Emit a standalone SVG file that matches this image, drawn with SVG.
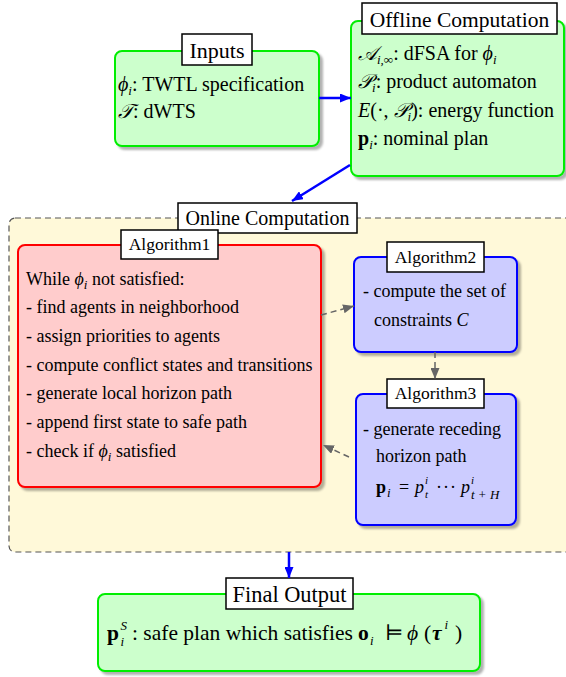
<svg xmlns="http://www.w3.org/2000/svg" width="566" height="677" viewBox="0 0 566 677">
<style>
text{font-family:"Liberation Serif","DejaVu Serif",serif;fill:#000}
.t{text-anchor:middle}
.ta{font-size:17.5px;text-anchor:middle}
.b{font-size:20px}
.s{font-size:18px}
.f{font-size:21.5px}
.m{font-style:italic}
.sub{font-size:13px}
.sm{font-size:11px}
.green{fill:#ccffcc;stroke:#00ee00;stroke-width:2}
.red{fill:#ffcccc;stroke:#ff0000;stroke-width:2}
.blue{fill:#ccccff;stroke:#0000ff;stroke-width:2}
.title{fill:#fff;stroke:#000;stroke-width:1.5}
.ba{stroke:#0000ff;stroke-width:2.5;fill:none}
.da{stroke:#666;stroke-width:1.5;stroke-dasharray:6,4;fill:none}
</style>
<defs>
<filter id="sh" x="-10%" y="-10%" width="130%" height="130%">
<feDropShadow dx="3" dy="3" stdDeviation="1.2" flood-color="#000" flood-opacity="0.3"/>
</filter>
<marker id="ab" markerUnits="userSpaceOnUse" markerWidth="11" markerHeight="9" refX="11" refY="4.5" orient="auto"><path d="M0,0 L11,4.5 L0,9 z" fill="#0000ff"/></marker>
<marker id="ag" markerUnits="userSpaceOnUse" markerWidth="11" markerHeight="9" refX="11" refY="4.5" orient="auto"><path d="M0,0 L11,4.5 L0,9 z" fill="#666"/></marker>
</defs>

<g id="online">
<rect x="9" y="218" width="600" height="334" rx="6" fill="#fff9d9" stroke="#555" stroke-width="1.2" stroke-dasharray="6,4"/>
<rect class="title" x="178" y="203" width="179" height="30"/>
<text class="t" x="267.5" y="225" font-size="20">Online Computation</text>
</g>

<g id="inputs">
<rect class="green" x="115" y="51" width="204" height="95" rx="7" filter="url(#sh)"/>
<rect class="title" x="182" y="34" width="70" height="31"/>
<text class="t" x="217" y="58" font-size="22">Inputs</text>
<text class="b" x="118" y="91" font-size="20.8"><tspan class="m">ϕ</tspan><tspan class="sub m" dy="4">i</tspan><tspan dy="-4">: TWTL specification</tspan></text>
<text class="b" x="118" y="118" font-size="20.8"><tspan class="m">𝒯</tspan>: dWTS</text>
</g>

<g id="offline">
<rect class="green" x="351" y="21" width="213" height="155" rx="7" filter="url(#sh)"/>
<rect class="title" x="362" y="3" width="195" height="31"/>
<text class="t" x="459.5" y="27" font-size="21.5">Offline Computation</text>
<text class="b" x="358" y="60"><tspan class="m">𝒜</tspan><tspan class="sub m" dy="4">i,∞</tspan><tspan dy="-4">: dFSA for </tspan><tspan class="m">ϕ</tspan><tspan class="sub m" dy="4">i</tspan></text>
<text class="b" x="358" y="88"><tspan class="m">𝒫</tspan><tspan class="sub m" dy="4">i</tspan><tspan dy="-4">: product automaton</tspan></text>
<text class="b" x="358" y="117"><tspan class="m">E</tspan>(·, <tspan class="m">𝒫</tspan><tspan class="sub m" dy="4">i</tspan><tspan dy="-4">): energy function</tspan></text>
<text class="b" x="358" y="145"><tspan font-weight="bold">p</tspan><tspan class="sub m" dy="4">i</tspan><tspan dy="-4">: nominal plan</tspan></text>
</g>

<g id="algorithm1">
<rect class="red" x="18" y="245" width="303" height="242" rx="7" filter="url(#sh)"/>
<rect class="title" x="121" y="230" width="97" height="29"/>
<text class="ta" x="169.5" y="250">Algorithm1</text>
<text class="s" x="26" y="285">While <tspan class="m">ϕ</tspan><tspan class="sub m" dy="4">i</tspan><tspan dy="-4"> not satisfied:</tspan></text>
<text class="s" x="26" y="313">- find agents in neighborhood</text>
<text class="s" x="26" y="342">- assign priorities to agents</text>
<text class="s" x="26" y="371">- compute conflict states and transitions</text>
<text class="s" x="26" y="399">- generate local horizon path</text>
<text class="s" x="26" y="428">- append first state to safe path</text>
<text class="s" x="26" y="457">- check if <tspan class="m">ϕ</tspan><tspan class="sub m" dy="4">i</tspan><tspan dy="-4"> satisfied</tspan></text>
</g>

<g id="algorithm2">
<rect class="blue" x="354" y="257" width="163" height="95" rx="7" filter="url(#sh)"/>
<rect class="title" x="387" y="242" width="97" height="30"/>
<text class="ta" x="435.5" y="263">Algorithm2</text>
<text class="s" x="363" y="297">- compute the set of</text>
<text class="s" x="374" y="326">constraints <tspan class="m">C</tspan></text>
</g>

<g id="algorithm3">
<rect class="blue" x="356" y="394" width="160" height="131" rx="7" filter="url(#sh)"/>
<rect class="title" x="387" y="379" width="97" height="29"/>
<text class="ta" x="435.5" y="399">Algorithm3</text>
<text class="s" x="363" y="435">- generate receding</text>
<text class="s" x="376" y="462">horizon path</text>
<text class="s"><tspan font-weight="bold" x="376" y="493">p</tspan><tspan class="sub m" x="387" y="497">i</tspan><tspan x="399" y="493">=</tspan><tspan class="m" x="415" y="493">p</tspan><tspan class="sm m" x="425" y="484">i</tspan><tspan class="sm m" x="425" y="498">t</tspan><tspan x="436" y="493">·</tspan><tspan x="443" y="493">·</tspan><tspan x="450" y="493">·</tspan><tspan class="m" x="461" y="493">p</tspan><tspan class="sm m" x="471" y="484">i</tspan><tspan class="sub m" x="471" y="499">t + H</tspan></text>
</g>

<g id="final">
<rect class="green" x="98" y="594" width="382" height="77" rx="7" filter="url(#sh)"/>
<rect class="title" x="226" y="578" width="127" height="31"/>
<text class="t" x="289.5" y="602" font-size="22.4">Final Output</text>
<text class="f"><tspan font-weight="bold" x="107" y="640">p</tspan><tspan class="sub m" x="120.5" y="630">S</tspan><tspan class="sub m" x="120.5" y="646">i</tspan><tspan x="132" y="640">: safe plan which satisfies </tspan><tspan font-weight="bold" x="358" y="640">o</tspan><tspan class="sub m" x="370" y="645">i</tspan><tspan x="385" y="640">⊨</tspan><tspan class="m" x="407" y="640">ϕ</tspan><tspan x="424" y="640">(</tspan><tspan class="m" font-weight="bold" x="432" y="640">τ</tspan><tspan class="sub m" x="444.5" y="629">i</tspan><tspan x="455" y="640">)</tspan></text>
</g>

<g id="connectors">
<line class="ba" x1="319" y1="98" x2="351" y2="98" marker-end="url(#ab)"/>
<line class="ba" x1="350" y1="165" x2="292" y2="201" marker-end="url(#ab)"/>
<line class="ba" x1="289" y1="552" x2="289" y2="578" marker-end="url(#ab)"/>
<line class="da" x1="321" y1="315" x2="354" y2="306" marker-end="url(#ag)"/>
<line class="da" x1="435" y1="352" x2="435" y2="379" marker-end="url(#ag)"/>
<line class="da" x1="349" y1="457" x2="323" y2="445" marker-end="url(#ag)"/>
</g>
</svg>
